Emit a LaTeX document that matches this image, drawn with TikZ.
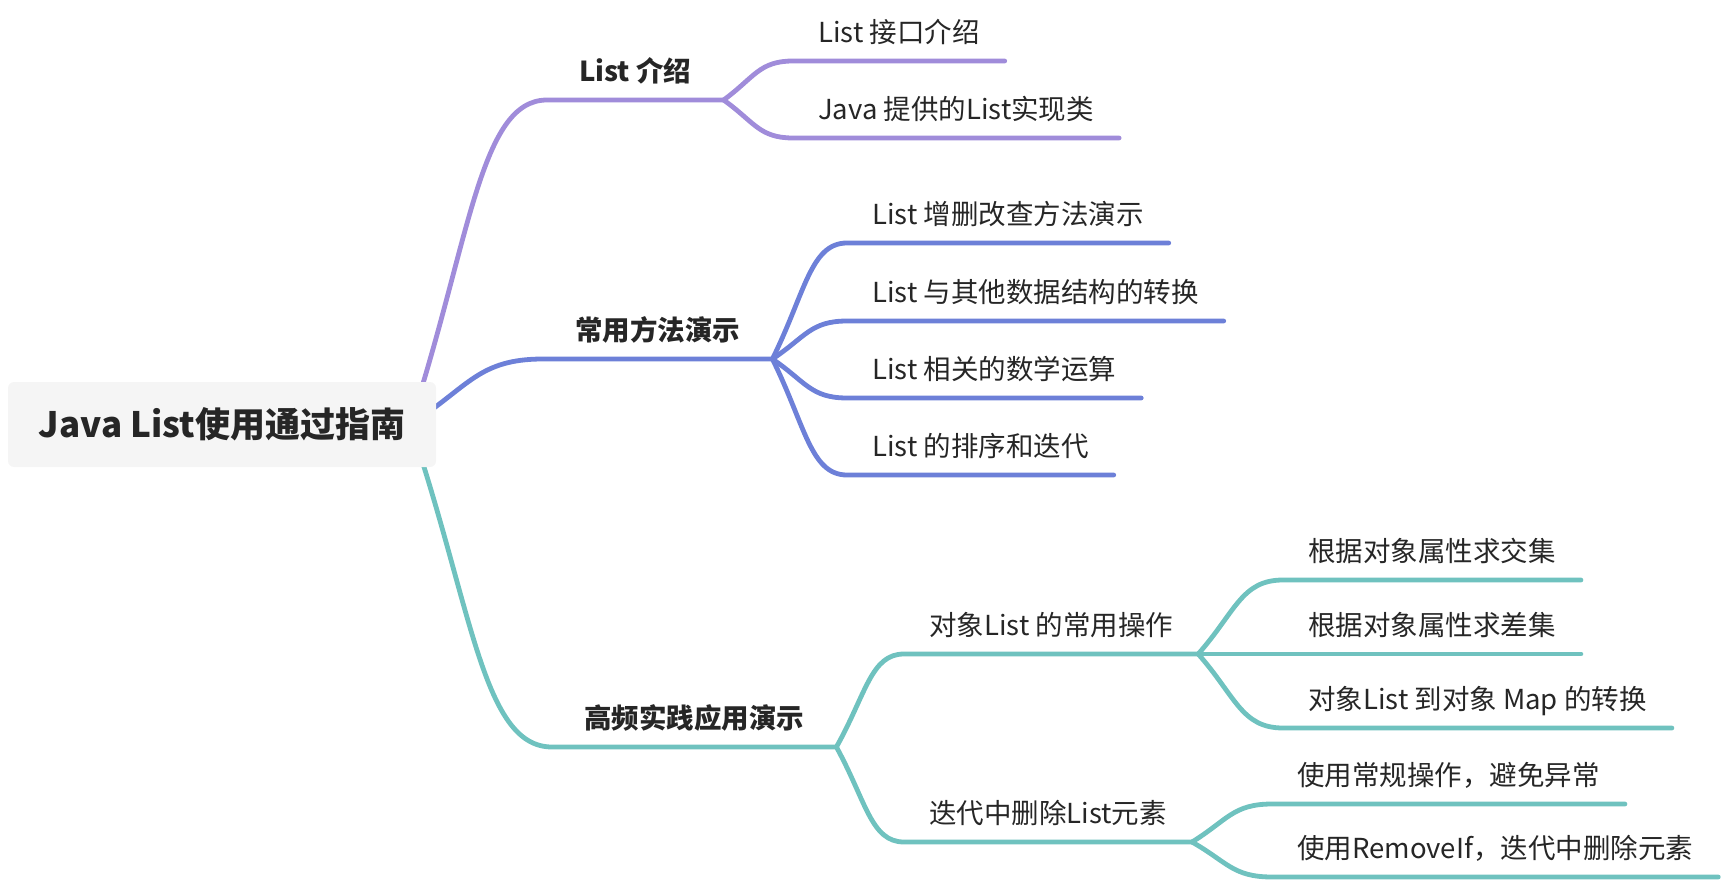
\documentclass[tikz,border=0pt]{standalone}
\usepackage{fontspec}
\setmainfont{Noto Sans CJK SC}
\usetikzlibrary{calc,backgrounds}

\definecolor{purpline}{HTML}{A08CDA}
\definecolor{blueline}{HTML}{6D80D8}
\definecolor{tealline}{HTML}{6FC2BF}
\definecolor{rootfill}{HTML}{F5F5F5}
\definecolor{textgray}{HTML}{262626}

\tikzset{
  root/.style={fill=rootfill, rounded corners=6pt, inner sep=0pt,
    minimum width=428pt, minimum height=85pt, text height=26.6pt, text depth=0pt,
    font=\fontsize{35}{42}\selectfont\bfseries, text=textgray},
  topic/.style={anchor=south west, inner xsep=25pt, inner ysep=18.5pt,
    text height=21pt, text depth=0pt, font=\fontsize{27.5}{33}\selectfont, text=textgray},
  main/.style={topic, inner xsep=32pt, font=\fontsize{27.5}{33}\selectfont\bfseries},
  branch/.style={line width=4.8pt, line cap=round,
    to path={let \p1=(\tikztostart), \p2=(\tikztotarget) in
      .. controls (\x1+0.44*\x2-0.44*\x1, \y1+0.57*\y2-0.57*\y1)
             and (0.51*\x2+0.49*\x1, \y2) .. (\tikztotarget)}},
}

\begin{document}
\begin{tikzpicture}[x=1pt, y=1pt]
    \useasboundingbox (0,0) rectangle (1728,-882);
    % Root
    \node[root] (root) at (222,-424.5) {Java List使用通过指南};
    \coordinate (s) at ([xshift=-26pt]root.east);
    % Main topics
    \node[main] (intro) at (547,-100) {List 介绍};
    \node[main] (method) at (543,-359) {常用方法演示};
    \node[main] (practice) at (552,-747) {高频实践应用演示};
    % Subtopics
    \node[topic] (iface) at (793,-61) {List 接口介绍};
    \node[topic] (impl) at (793,-138) {Java 提供的List实现类};
    \node[topic] (crud) at (847,-243) {List 增删改查方法演示};
    \node[topic] (conv) at (847,-321) {List 与其他数据结构的转换};
    \node[topic] (math) at (847,-398) {List 相关的数学运算};
    \node[topic] (sort) at (847,-475) {List 的排序和迭代};
    \node[topic] (objop) at (904,-654) {对象List 的常用操作};
    \node[topic] (remove) at (904,-842) {迭代中删除List元素};
    \node[topic] (inter) at (1283,-580) {根据对象属性求交集};
    \node[topic] (diff) at (1283,-654) {根据对象属性求差集};
    \node[topic] (map) at (1283,-728) {对象List 到对象 Map 的转换};
    \node[topic] (normal) at (1272,-804) {使用常规操作，避免异常};
    \node[topic] (removeif) at (1272,-877) {使用RemoveIf，迭代中删除元素};
    % Connectors
    \begin{scope}[on background layer]
        \draw[branch, purpline] (s) to (intro.south west) -- (intro.south east);
        \draw[branch, blueline] (s) to (method.south west) -- (method.south east);
        \draw[branch, tealline] (s) to (practice.south west) -- (practice.south east);
        \foreach \c in {iface,impl}
            \draw[branch, purpline] (intro.south east) to (\c.south west) -- (\c.south east);
        \foreach \c in {crud,conv,math,sort}
            \draw[branch, blueline] (method.south east) to (\c.south west) -- (\c.south east);
        \foreach \c in {objop,remove}
            \draw[branch, tealline] (practice.south east) to (\c.south west) -- (\c.south east);
        \foreach \c in {inter,diff,map}
            \draw[branch, tealline] (objop.south east) to (\c.south west) -- (\c.south east);
        \foreach \c in {normal,removeif}
            \draw[branch, tealline] (remove.south east) to (\c.south west) -- (\c.south east);
    \end{scope}
\end{tikzpicture}
\end{document}
